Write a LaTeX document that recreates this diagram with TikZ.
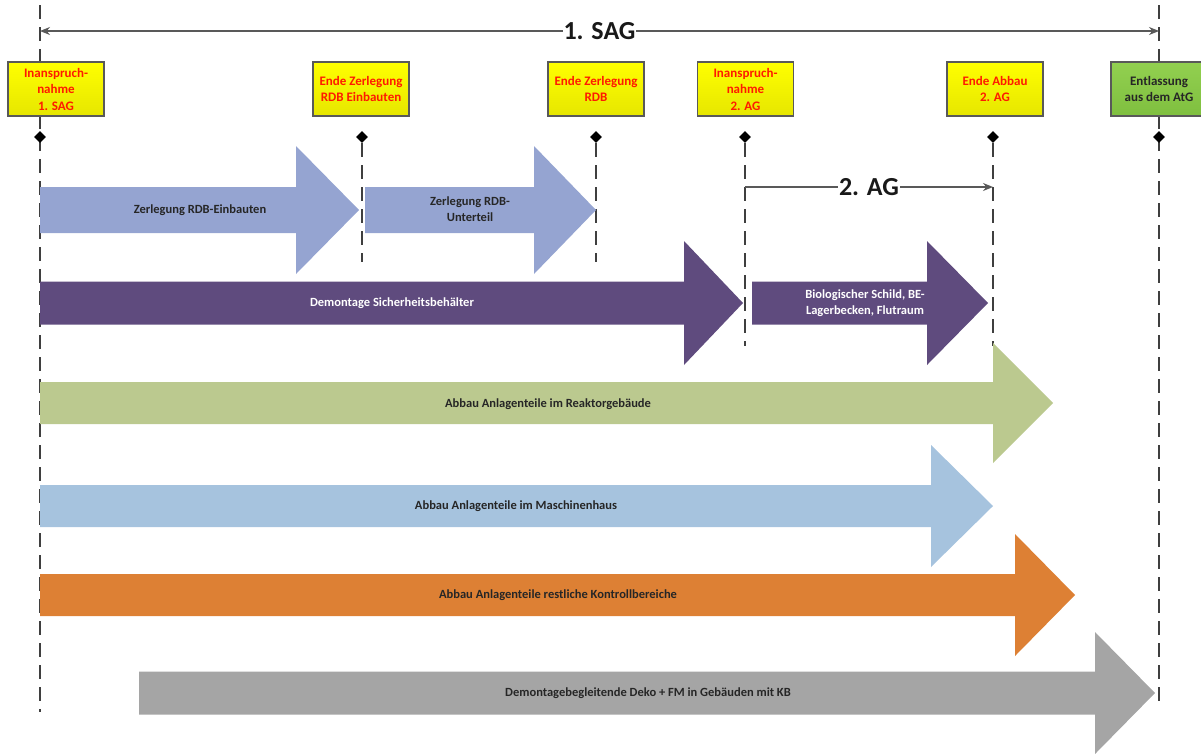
\documentclass[tikz,border=0pt]{standalone}
\usepackage{fontspec}
\setmainfont{Carlito}
\usetikzlibrary{arrows.meta,shapes.geometric}
\definecolor{lav}{HTML}{95A4D1}
\definecolor{purp}{HTML}{5F4B7E}
\definecolor{grn}{HTML}{BBC98F}
\definecolor{lblue}{HTML}{A6C3DE}
\definecolor{orng}{HTML}{DD8034}
\definecolor{gry}{HTML}{A5A5A5}
\definecolor{dash}{HTML}{3F3F3F}
\definecolor{dim}{HTML}{595959}
\definecolor{ylw}{HTML}{FFFF00}
\definecolor{ylwb}{HTML}{E6E600}
\definecolor{gbox}{HTML}{92D050}
\definecolor{gboxb}{HTML}{7FBF3F}
\definecolor{txtred}{HTML}{FF1A00}
\newcommand\blockarr[7]{%
  \fill[#7] (#1,#4-#5) -- (#2,#4-#5) -- (#2,#4-#6) -- (#3,#4) -- (#2,#4+#6) -- (#2,#4+#5) -- (#1,#4+#5) -- cycle;}
\tikzset{
  msline/.style={draw=dash, line width=2pt, dash pattern=on 14pt off 8pt},
  dimline/.style={draw=dim, line width=1.4pt},
  msbox/.style={draw=black!65, line width=1.3pt, top color=ylw, bottom color=ylwb, minimum width=96pt, minimum height=54pt, inner sep=1pt, align=center, text=txtred, font=\fontsize{13}{16.5}\selectfont\bfseries},
  endbox/.style={msbox, top color=gbox, bottom color=gboxb, text=black!85},
  dmd/.style={diamond, fill=black, minimum size=12pt, inner sep=0pt},
  albl/.style={font=\fontsize{12.5}{16}\selectfont\bfseries, align=center, text=black!85},
  wlbl/.style={albl, text=white},
  biglbl/.style={font=\fontsize{26}{30}\selectfont\bfseries, fill=white, inner sep=1pt, text=black!90},
}
\begin{document}
\begin{tikzpicture}[x=1pt,y=-1pt]
\useasboundingbox (0,0) rectangle (1201,753);
% milestone coordinates
\coordinate (aT) at (40,5);    \coordinate (aB) at (40,712);
\coordinate (bT) at (362,143); \coordinate (bB) at (362,262);
\coordinate (cT) at (596,143); \coordinate (cB) at (596,262);
\coordinate (dT) at (745,143); \coordinate (dB) at (745,346);
\coordinate (eT) at (993,143); \coordinate (eB) at (993,346);
\coordinate (fT) at (1159,5);  \coordinate (fB) at (1159,702);
% dashed milestone lines
\draw[msline] (aT) -- (aB);
\draw[msline] (bT) -- (bB);
\draw[msline] (cT) -- (cB);
\draw[msline] (dT) -- (dB);
\draw[msline] (eT) -- (eB);
\draw[msline] (fT) -- (fB);
% 1. SAG span
\coordinate (sagL) at (40,31); \coordinate (sagR) at (1159,31);
\draw[dimline, {Stealth[length=10pt,width=8pt]}-{Stealth[length=10pt,width=8pt]}] (sagL) -- node[biglbl] (sag) {1. SAG} (sagR);
% 2. AG span
\coordinate (agL) at (745,187); \coordinate (agR) at (993,187);
\draw[dimline, -{Stealth[length=10pt,width=8pt]}] (agL) -- node[biglbl] (ag) {2. AG} (agR);
% boxes
\node[msbox] (m1) at (56,89) {Inanspruch-\\nahme\\1. SAG};
\node[msbox] (m2) at (361,89) {Ende Zerlegung\\RDB Einbauten};
\node[msbox] (m3) at (596,89) {Ende Zerlegung\\RDB};
\node[msbox] (m4) at (745.5,89) {Inanspruch-\\nahme\\2. AG};
\node[msbox] (m5) at (995,89) {Ende Abbau\\2. AG};
\node[endbox] (m6) at (1159,89) {Entlassung\\aus dem AtG};
% diamonds
\node[dmd] (d1) at (40,137) {};
\node[dmd] (d2) at (362,137) {};
\node[dmd] (d3) at (596,137) {};
\node[dmd] (d4) at (745,137) {};
\node[dmd] (d5) at (993,137) {};
\node[dmd] (d6) at (1159,137) {};
% block arrows
\blockarr{40}{296}{359}{210}{23}{64}{lav}
\blockarr{365}{534}{596}{210}{23}{64}{lav}
\blockarr{40}{684}{743}{303}{21.5}{62}{purp}
\blockarr{752}{927}{988}{303}{21.5}{62}{purp}
\blockarr{40}{993}{1053}{403}{21}{60}{grn}
\blockarr{40}{931}{993}{506}{21}{61}{lblue}
\blockarr{40}{1015}{1075}{595}{21}{61}{orng}
\blockarr{139}{1095}{1155}{693}{21.5}{61}{gry}
% labels
\node[albl] (t1) at (200,210) {Zerlegung RDB-Einbauten};
\node[albl] (t2) at (470,209) {Zerlegung RDB-\\Unterteil};
\node[wlbl] (t3) at (392,303) {Demontage Sicherheitsbehälter};
\node[wlbl] (t4) at (865,303) {Biologischer Schild, BE-\\Lagerbecken, Flutraum};
\node[albl] (t5) at (548,404) {Abbau Anlagenteile im Reaktorgebäude};
\node[albl] (t6) at (516,506) {Abbau Anlagenteile im Maschinenhaus};
\node[albl] (t7) at (558,595) {Abbau Anlagenteile restliche Kontrollbereiche};
\node[albl] (t8) at (648,693) {Demontagebegleitende Deko + FM in Gebäuden mit KB};
\end{tikzpicture}
\end{document}
